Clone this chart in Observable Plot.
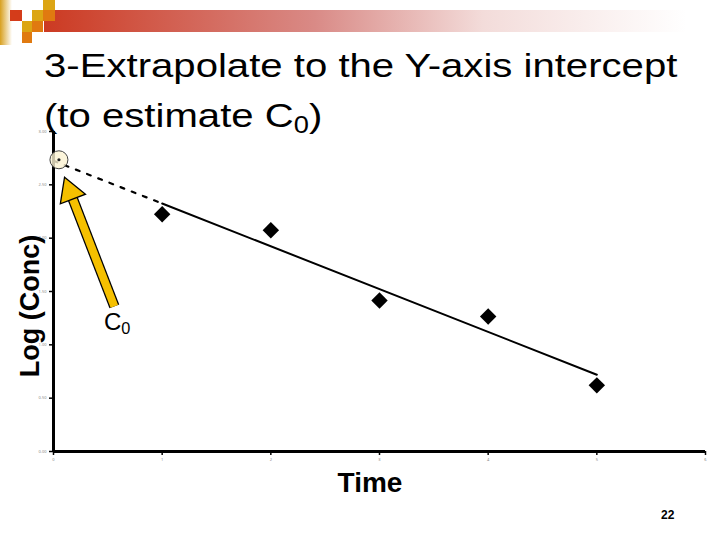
<!DOCTYPE html>
<html>
<head>
<meta charset="utf-8">
<script src="https://cdn.jsdelivr.net/npm/d3@7"></script>
<script src="https://cdn.jsdelivr.net/npm/@observablehq/plot@0.6"></script>
<style>
  html, body { margin: 0; padding: 0; background: #fff; }
  #wrap { position: relative; width: 720px; height: 540px; overflow: hidden; font-family: "Liberation Sans", Arial, sans-serif; }
  .sq { position: absolute; }
  #chart { position: absolute; left: 0; top: 0; }
  .title { position: absolute; left: 44px; font-size: 34px; line-height: 26px; color: #000; white-space: nowrap; transform: scaleX(1.18); transform-origin: 0 0; }
  sub { font-size: 0.68em; vertical-align: -0.25em; line-height: 0; }
</style>
</head>
<body>
<div id="wrap">
  <div class="sq" style="left:0;top:0;width:12px;height:45px;background:linear-gradient(to right,#d8a020,#fff);"></div>
  <div class="sq" style="left:44px;top:10px;width:676px;height:22px;background:linear-gradient(to right,#cc3a22 0%,#d98a86 40%,#f3dcda 65%,#fff 95%);"></div>
  <div class="sq" style="left:10px;top:10px;width:12px;height:11px;background:#d43c1a;"></div>
  <div class="sq" style="left:43px;top:0px;width:12px;height:10px;background:#dca514;"></div>
  <div class="sq" style="left:32px;top:10px;width:11px;height:11px;background:#dca514;"></div>
  <div class="sq" style="left:43px;top:10px;width:12px;height:11px;background:#e07a10;"></div>
  <div class="sq" style="left:22px;top:21px;width:10px;height:11px;background:#dca514;"></div>
  <div class="sq" style="left:32px;top:21px;width:11px;height:11px;background:#e07a10;"></div>
  <div class="sq" style="left:22px;top:32px;width:10px;height:11px;background:#e07a10;"></div>
  <div id="chart"></div>
  <div class="title" style="top:52px;">3-Extrapolate to the Y-axis intercept</div>
  <div class="title" style="top:102px;">(to estimate C<sub>0</sub>)</div>
  <div style="position:absolute;left:104px;top:308px;font-size:24px;">C<sub>0</sub></div>
  <div style="position:absolute;left:-65px;top:290px;width:190px;text-align:center;transform:rotate(-90deg);font-weight:bold;font-size:27px;line-height:32px;">Log (Conc)</div>
  <div style="position:absolute;left:300px;top:467px;width:140px;text-align:center;font-weight:bold;font-size:28px;">Time</div>
  <div style="position:absolute;left:661px;top:508px;font-weight:bold;font-size:12px;">22</div>
</div>
<script>
// Data
const times = [1, 2, 3, 4, 5];
const logConc = [4.45, 4.15, 2.83, 2.53, 1.24];
// fitted line endpoints (solid part) and extrapolated part
const fitX = [1, 5];
const fitY = [4.65, 1.44];
const extX = [0, 1];
const extY = [5.45, 4.65];
// C0 marker
const c0X = [0.05];
const c0Y = [5.47];
// annotation arrow: shaft (tail -> head base) and head position
const shaftFrom = [0.56, 2.72];
const shaftTo = [0.175, 4.75];
const headAt = [0.153, 4.87];
const headRotate = [-21];
// tick labels
const xTicks = [0, 1, 2, 3, 4, 5, 6];
const xTickLabels = ["0", "1", "2", "3", "4", "5", "6"];
const yTicks = [0, 1, 2, 3, 4, 5, 6];
const yTickLabels = ["0.00", "0.50", "1.00", "1.50", "2.00", "2.50", "3.00"];

const pts = times.map((t, i) => ({t, v: logConc[i]}));
const fit = fitX.map((x, i) => ({x, y: fitY[i]}));
const ext = extX.map((x, i) => ({x, y: extY[i]}));
const c0 = c0X.map((x, i) => ({x, y: c0Y[i]}));
const shaft = [{x1: shaftFrom[0], y1: shaftFrom[1], x2: shaftTo[0], y2: shaftTo[1]}];
const head = [{x: headAt[0], y: headAt[1], a: headRotate[0]}];

const chart = Plot.plot({
  width: 720,
  height: 540,
  marginLeft: 53,
  marginRight: 15,
  marginTop: 131,
  marginBottom: 89,
  style: {background: "transparent"},
  x: {domain: [0, 6]},
  y: {domain: [0, 6]},
  marks: [
    Plot.axisX({ticks: xTicks, tickFormat: d => xTickLabels[xTicks.indexOf(d)], tickSize: 4, fontSize: 4, tickPadding: 3, color: "#888", stroke: "#000", strokeWidth: 1.5, label: null}),
    Plot.axisY({ticks: yTicks, tickFormat: d => yTickLabels[yTicks.indexOf(d)], tickSize: 4, fontSize: 4, tickPadding: 3, color: "#888", stroke: "#000", strokeWidth: 1.5, label: null}),
    Plot.ruleY([0], {stroke: "#000", strokeWidth: 3}),
    Plot.ruleX([0], {stroke: "#000", strokeWidth: 3}),
    Plot.line(ext, {x: "x", y: "y", stroke: "#000", strokeWidth: 2.2, strokeDasharray: "4,8"}),
    Plot.line(fit, {x: "x", y: "y", stroke: "#000", strokeWidth: 2}),
    Plot.dot(pts, {x: "t", y: "v", symbol: "diamond2", fill: "#000", stroke: "none", r: 7.4}),
    Plot.dot(c0, {x: "x", y: "y", r: 9, fill: "#fbf3d2", fillOpacity: 0.8, stroke: "#444", strokeWidth: 1}),
    Plot.dot(c0, {x: "x", y: "y", r: 1.6, fill: "#222"}),
    Plot.link(shaft, {x1: "x1", y1: "y1", x2: "x2", y2: "y2", stroke: "#000", strokeWidth: 10.5, strokeLinecap: "butt"}),
    Plot.link(shaft, {x1: "x1", y1: "y1", x2: "x2", y2: "y2", stroke: "#f5c000", strokeWidth: 8, strokeLinecap: "butt"}),
    Plot.dot(head, {x: "x", y: "y", symbol: "triangle", rotate: "a", r: 10, fill: "#f5c000", stroke: "#000", strokeWidth: 1.3, strokeLinejoin: "miter"})
  ]
});
document.getElementById("chart").appendChild(chart);
</script>
</body>
</html>
